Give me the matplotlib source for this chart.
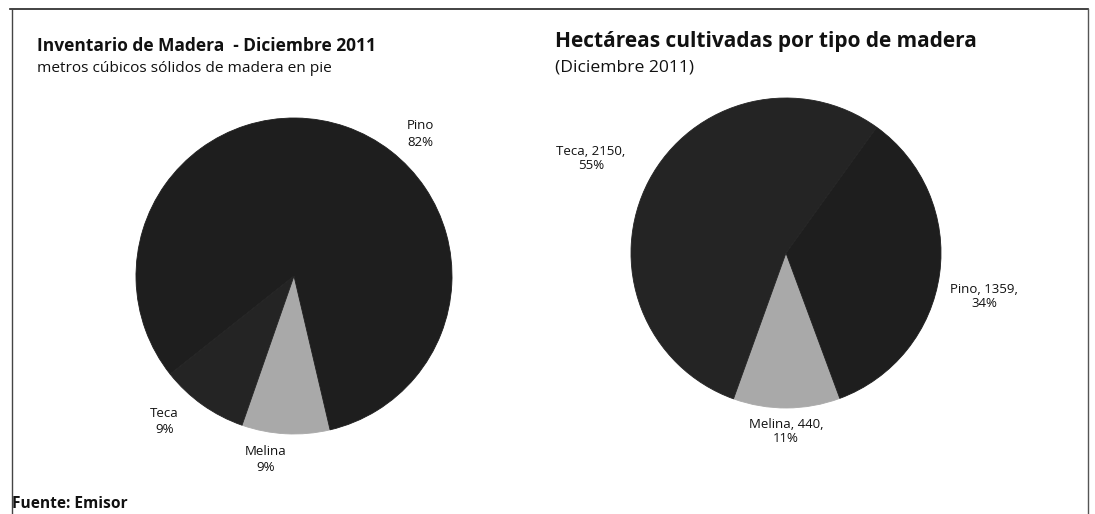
import matplotlib
matplotlib.use("Agg")
import matplotlib.pyplot as plt
from matplotlib.lines import Line2D

# datos: inventario (porcentajes) y hectareas
inv_labels = ["Melina", "Pino", "Teca"]
inv_pct = [9, 82, 9]

ha_labels = ["Melina", "Pino", "Teca"]
ha_values = [440, 1359, 2150]
ha_pct = [11, 34, 55]

colors = {"Melina": "#a9a9a9", "Pino": "#1e1e1e", "Teca": "#242424"}

plt.rcParams['font.family'] = ['Open Sans', 'DejaVu Sans']

W, H = 1095, 514
fig = plt.figure(figsize=(W / 100, H / 100), dpi=100)


def pie_axes(cx, cy, r):
    ax = fig.add_axes([(cx - r) / W, (H - cy - r) / H, 2 * r / W, 2 * r / H])
    ax.axis("off")
    return ax


def fix_limits(ax):
    # pie() pone sus propios limites, los dejamos a radio 1
    ax.set_xlim(-1, 1)
    ax.set_ylim(-1, 1)
    ax.set_aspect("equal")


def hide_gaps(wedges):
    for w in wedges:
        w.set_edgecolor(w.get_facecolor())
        w.set_linewidth(0.6)


# pie izquierda
ax1 = pie_axes(294, 276, 158)
start1 = 270 - inv_pct[0] * 3.6 / 2 - 3
w1, _ = ax1.pie(inv_pct, colors=[colors[l] for l in inv_labels], startangle=start1,
                counterclock=True, radius=1)
hide_gaps(w1)
fix_limits(ax1)
pos1 = {"Pino": (0.80, 0.90), "Teca": (-0.82, -0.92), "Melina": (-0.18, -1.16)}
for lab, p in zip(inv_labels, inv_pct):
    x, y = pos1[lab]
    ax1.text(x, y, "%s\n%d%%" % (lab, p), ha="center", va="center",
             fontsize=9.5, linespacing=1.35, color="#111111")

# pie derecha
ax2 = pie_axes(786, 253, 155)
start2 = 270 - ha_pct[0] * 3.6 / 2
w2, _ = ax2.pie(ha_values, colors=[colors[l] for l in ha_labels], startangle=start2,
                counterclock=True, radius=1)
hide_gaps(w2)
fix_limits(ax2)
pos2 = {"Teca": (-1.26, 0.61), "Pino": (1.28, -0.28), "Melina": (0.0, -1.15)}
for lab, v, p in zip(ha_labels, ha_values, ha_pct):
    x, y = pos2[lab]
    ax2.text(x, y, "%s, %d,\n%d%%" % (lab, v, p), ha="center", va="center",
             fontsize=9.5, linespacing=1.15, color="#111111")

# titulos
fig.text(37 / W, 1 - 46 / H, "Inventario de Madera  - Diciembre 2011", fontsize=12.5,
         fontweight="bold", va="center", ha="left", color="#111111")
fig.text(37 / W, 1 - 69 / H, "metros cúbicos sólidos de madera en pie", fontsize=11.1,
         va="center", ha="left", color="#111111")
fig.text(555 / W, 1 - 42 / H, "Hectáreas cultivadas por tipo de madera", fontsize=15,
         fontweight="bold", va="center", ha="left", color="#111111")
fig.text(555 / W, 1 - 67 / H, "(Diciembre 2011)", fontsize=12.6,
         va="center", ha="left", color="#111111")
fig.text(12 / W, 1 - 504 / H, "Fuente: Emisor", fontsize=11.2,
         fontweight="bold", va="center", ha="left", color="#111111")

# marco
fig.add_artist(Line2D([10 / W, 1088 / W], [1 - 9 / H, 1 - 9 / H], color="#222222", lw=1.2))
fig.add_artist(Line2D([12 / W, 12 / W], [0, 1 - 9 / H], color="#444444", lw=1.0))
fig.add_artist(Line2D([1088 / W, 1088 / W], [0, 1 - 9 / H], color="#555555", lw=1.0))

fig.savefig("out.png", dpi=100)
